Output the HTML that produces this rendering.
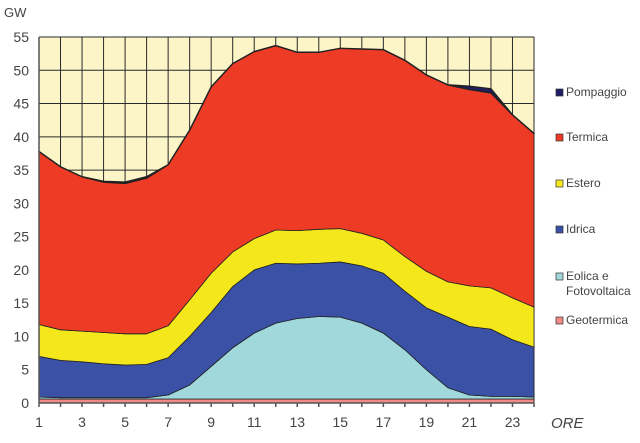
<!DOCTYPE html>
<html><head><meta charset="utf-8"><style>
body{margin:0;background:#fff;font-family:"Liberation Sans",sans-serif}
svg text{font-family:"Liberation Sans",sans-serif;fill:#444}
</style></head><body>
<svg id="c" width="640" height="438"></svg>
<script>
const hours=[1,2,3,4,5,6,7,8,9,10,11,12,13,14,15,16,17,18,19,20,21,22,23,24];
const geotermica=[0.6,0.6,0.6,0.6,0.6,0.6,0.6,0.6,0.6,0.6,0.6,0.6,0.6,0.6,0.6,0.6,0.6,0.6,0.6,0.6,0.6,0.6,0.6,0.6];
const eolica=[0.3,0.2,0.2,0.2,0.2,0.2,0.6,2.1,4.9,7.7,9.9,11.4,12.1,12.4,12.3,11.4,9.9,7.4,4.4,1.7,0.6,0.4,0.4,0.3];
const idrica=[6.1,5.6,5.4,5.1,4.9,5.0,5.6,7.3,8.1,9.2,9.5,9.0,8.2,8.0,8.3,8.6,9.0,8.8,9.3,10.6,10.3,10.1,8.5,7.5];
const estero=[4.8,4.6,4.6,4.7,4.7,4.6,4.8,5.5,5.9,5.2,4.7,5.0,5.0,5.1,5.0,4.9,5.0,5.2,5.5,5.3,6.1,6.2,6.3,6.0];
const termica=[26.0,24.5,23.2,22.6,22.6,23.4,24.2,25.5,28.0,28.3,28.1,27.7,26.8,26.6,27.1,27.7,28.6,29.5,29.5,29.6,29.5,29.3,27.5,26.1];
const pompaggio=[0,0,0,0.1,0.2,0.2,0,0,0,0,0,0,0,0,0,0,0,0,0,0,0.5,0.6,0,0];
const yTicks=[0,5,10,15,20,25,30,35,40,45,50,55];
const xTickLabels=[1,3,5,7,9,11,13,15,17,19,21,23];
const seriesNames=["Geotermica","Eolica e Fotovoltaica","Idrica","Estero","Termica","Pompaggio"];
const series=[geotermica,eolica,idrica,estero,termica,pompaggio];
const colors=["#f08a86","#a0d8dc","#3a51a6","#f4e81c","#ee3b25","#1d1d6a"];
const keys=["geotermica","eolica","idrica","estero","termica","pompaggio"];

const X0=39,X1=534,Y0=403,Y1=37;
const sx=h=>X0+(h-1)*(X1-X0)/23;
const sy=v=>Y0-v*(Y0-Y1)/55;
const NS="http://www.w3.org/2000/svg";
const svg=document.getElementById('c');
function mk(t,a,p){const e=document.createElementNS(NS,t);for(const k in a)e.setAttribute(k,a[k]);(p||svg).appendChild(e);return e;}

const bg=mk('rect',{x:X0,y:Y1,width:X1-X0,height:Y0-Y1,fill:'#fbf5c8'});


const grid=mk('g',{stroke:'#2a2a2a','stroke-width':1});


hours.forEach(h=>mk('line',{x1:sx(h),x2:sx(h),y1:Y1,y2:Y0},grid));
yTicks.forEach(v=>mk('line',{x1:X0,x2:X1,y1:sy(v),y2:sy(v)},grid));

let base=hours.map(()=>0);
series.forEach((s,i)=>{
  const top=base.map((b,j)=>b+s[j]);
  let d='M'+hours.map((h,j)=>sx(h)+','+sy(top[j])).join(' L');
  for(let j=hours.length-1;j>=0;j--)d+=' L'+sx(hours[j])+','+sy(base[j]);
  const p=mk('path',{d:d+'Z',fill:colors[i],stroke:'#222','stroke-width':i==5?1.5:0.8,'stroke-linejoin':'round'});
  
  
  base=top;
});
const ax=mk('g',{stroke:'#555','stroke-width':1.5});


mk('line',{x1:X0,x2:X1,y1:Y0,y2:Y0},ax);
mk('line',{x1:X0,x2:X0,y1:Y1,y2:Y0},ax);
hours.forEach(h=>mk('line',{x1:sx(h),x2:sx(h),y1:Y0,y2:Y0+4},ax));
yTicks.forEach(v=>{
  const t=mk('text',{x:29,y:sy(v)+5,'text-anchor':'end','font-size':14});
  t.textContent=v;
  
  
});
xTickLabels.forEach(h=>{
  const t=mk('text',{x:sx(h),y:427,'text-anchor':'middle','font-size':14});
  t.textContent=h;
  
  
});
const gw=mk('text',{x:4,y:17,'font-size':13});gw.textContent='GW';


const ore=mk('text',{x:551,y:428,'font-size':15,'font-style':'italic'});ore.textContent='ORE';



const legY=[326,282,235,189,143,98];
series.forEach((s,i)=>{
  const g=mk('g',{});
  
  
  mk('rect',{x:556,y:legY[i]-9,width:7,height:7,fill:colors[i],stroke:'#333','stroke-width':0.7},g);
  if(i==1){
    const t=mk('text',{x:566,y:legY[i]-2,'font-size':12},g);t.textContent='Eolica e';
    const t2=mk('text',{x:566,y:legY[i]+13,'font-size':12},g);t2.textContent='Fotovoltaica';
  } else {
    const t=mk('text',{x:566,y:legY[i]-2,'font-size':12},g);t.textContent=seriesNames[i];
  }
});
</script>
</body></html>
